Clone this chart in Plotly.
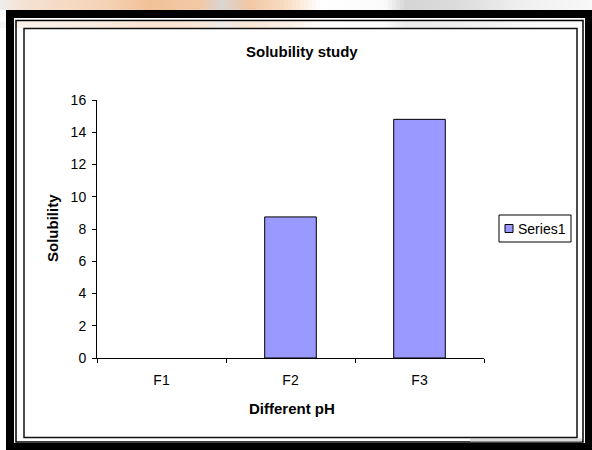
import plotly.graph_objects as go

# Chart data
categories = ["F1", "F2", "F3"]
solubility = [0, 8.75, 14.8]
series_name = "Series1"
y_ticks = [0, 2, 4, 6, 8, 10, 12, 14, 16]

title_text = "Solubility study"
x_title = "Different pH"
y_title = "Solubility"

FONT = "Liberation Sans, Arial, sans-serif"
W, H = 592, 450
BAR_COLOR = "#9999FF"

# Plot area in pixels
L, R, T, B = 97, 484, 100, 358


def px(x):
    """Pixel x -> paper x."""
    return (x - L) / (R - L)


def py(y):
    """Pixel y -> paper y."""
    return (B - y) / (B - T)


def rect(x0, y0, x1, y1, fill=None, line=None, lw=0, layer="below", opacity=1):
    return dict(
        type="rect", xref="paper", yref="paper",
        x0=px(x0), x1=px(x1), y0=py(y1), y1=py(y0),
        fillcolor=fill if fill else "rgba(0,0,0,0)",
        line=dict(color=line if line else "rgba(0,0,0,0)", width=lw),
        layer=layer, opacity=opacity,
    )


def hex_rgb(h):
    h = h.lstrip("#")
    return [int(h[i:i + 2], 16) for i in (0, 2, 4)]


def blend(stops, x):
    for (xa, ca), (xb, cb) in zip(stops, stops[1:]):
        if xa <= x <= xb:
            t = (x - xa) / (xb - xa) if xb > xa else 0
            a, b = hex_rgb(ca), hex_rgb(cb)
            return "rgb({},{},{})".format(*[round(a[i] + (b[i] - a[i]) * t) for i in range(3)])
    return stops[-1][1]


fig = go.Figure()
fig.add_trace(go.Bar(
    x=categories, y=solubility, name=series_name, width=0.4,
    marker=dict(color=BAR_COLOR,
                line=dict(color="#000000", width=[0 if v == 0 else 1 for v in solubility])),
    showlegend=False,
))

shapes = []
# soft tinted strip above the frame (blurred backdrop)
stops = [
    (0, "#eeeeee"), (20, "#f5e2d4"), (100, "#f5d4b8"), (150, "#f2c198"),
    (200, "#f3c9a6"), (222, "#d9d5d2"), (250, "#f2c7a3"), (290, "#f8e0c8"),
    (320, "#ffffff"), (385, "#fbfbfb"), (405, "#d5d5d5"), (460, "#dcdcdc"),
    (520, "#efefef"), (592, "#f8f8f8"),
]
step = 4
for x0 in range(0, W, step):
    c = blend(stops, x0 + step / 2)
    shapes.append(rect(x0, 0, x0 + step, 10, fill=c))
    shapes.append(rect(x0, 21.5, x0 + step, 28, fill=c, opacity=0.45))
# thick black frame
shapes.append(rect(6, 10, 592, 18, fill="#000000"))
shapes.append(rect(6, 10, 14, 450, fill="#000000"))
shapes.append(rect(585, 10, 592, 450, fill="#000000"))
shapes.append(rect(6, 443, 592, 450, fill="#000000"))
# thin black rule
shapes.append(rect(16, 20.5, 583, 442, line="#000000", lw=1.5))
# faint grey streak at lower right
shapes.append(rect(470, 438.5, 582, 441.5, fill="#d9d9d9"))
# inner chart frame
shapes.append(rect(24, 28.5, 577, 437.5, fill="#ffffff", line="#111111", lw=1.5))

# legend box with swatch
shapes.append(rect(499, 215, 571, 242, fill="#ffffff", line="#000000", lw=1, layer="above"))
shapes.append(rect(505, 224.5, 513, 232.5, fill=BAR_COLOR, line="#000000", lw=1, layer="above"))

annotations = [
    dict(text=f"<b>{title_text}</b>", x=px(301.5), y=py(51), xref="paper", yref="paper",
         showarrow=False, xanchor="center", yanchor="middle",
         font=dict(family=FONT, size=15, color="#000000")),
    dict(text=f"<b>{x_title}</b>", x=px(291.5), y=py(408), xref="paper", yref="paper",
         showarrow=False, xanchor="center", yanchor="middle",
         font=dict(family=FONT, size=15, color="#000000")),
    dict(text=f"<b>{y_title}</b>", x=px(52), y=py(228), xref="paper", yref="paper",
         showarrow=False, xanchor="center", yanchor="middle", textangle=-90,
         font=dict(family=FONT, size=15, color="#000000")),
    dict(text=series_name, x=px(516), y=py(228.5), xref="paper", yref="paper",
         showarrow=False, xanchor="left", yanchor="middle",
         font=dict(family=FONT, size=14, color="#000000")),
]

fig.update_layout(
    width=W, height=H,
    margin=dict(l=L, r=W - R, t=T, b=H - B, pad=0, autoexpand=False),
    paper_bgcolor="#ffffff", plot_bgcolor="rgba(0,0,0,0)",
    font=dict(family=FONT, size=14, color="#000000"),
    shapes=shapes, annotations=annotations,
    showlegend=False,
    xaxis=dict(
        type="category", range=[-0.5, 2.5], showline=True, linecolor="#000000",
        linewidth=1, ticks="outside", tickson="boundaries", ticklen=4,
        tickcolor="#000000", showgrid=False, zeroline=False,
        ticklabelstandoff=9,
        tickfont=dict(family=FONT, size=14, color="#000000"),
    ),
    yaxis=dict(
        range=[0, 16], tickvals=y_ticks, showline=True, linecolor="#000000",
        linewidth=1, ticks="outside", ticklen=4, tickcolor="#000000",
        showgrid=False, zeroline=False, ticklabelstandoff=3,
        tickfont=dict(family=FONT, size=14, color="#000000"),
    ),
)

fig.write_html("out.html", config={"displayModeBar": False})
